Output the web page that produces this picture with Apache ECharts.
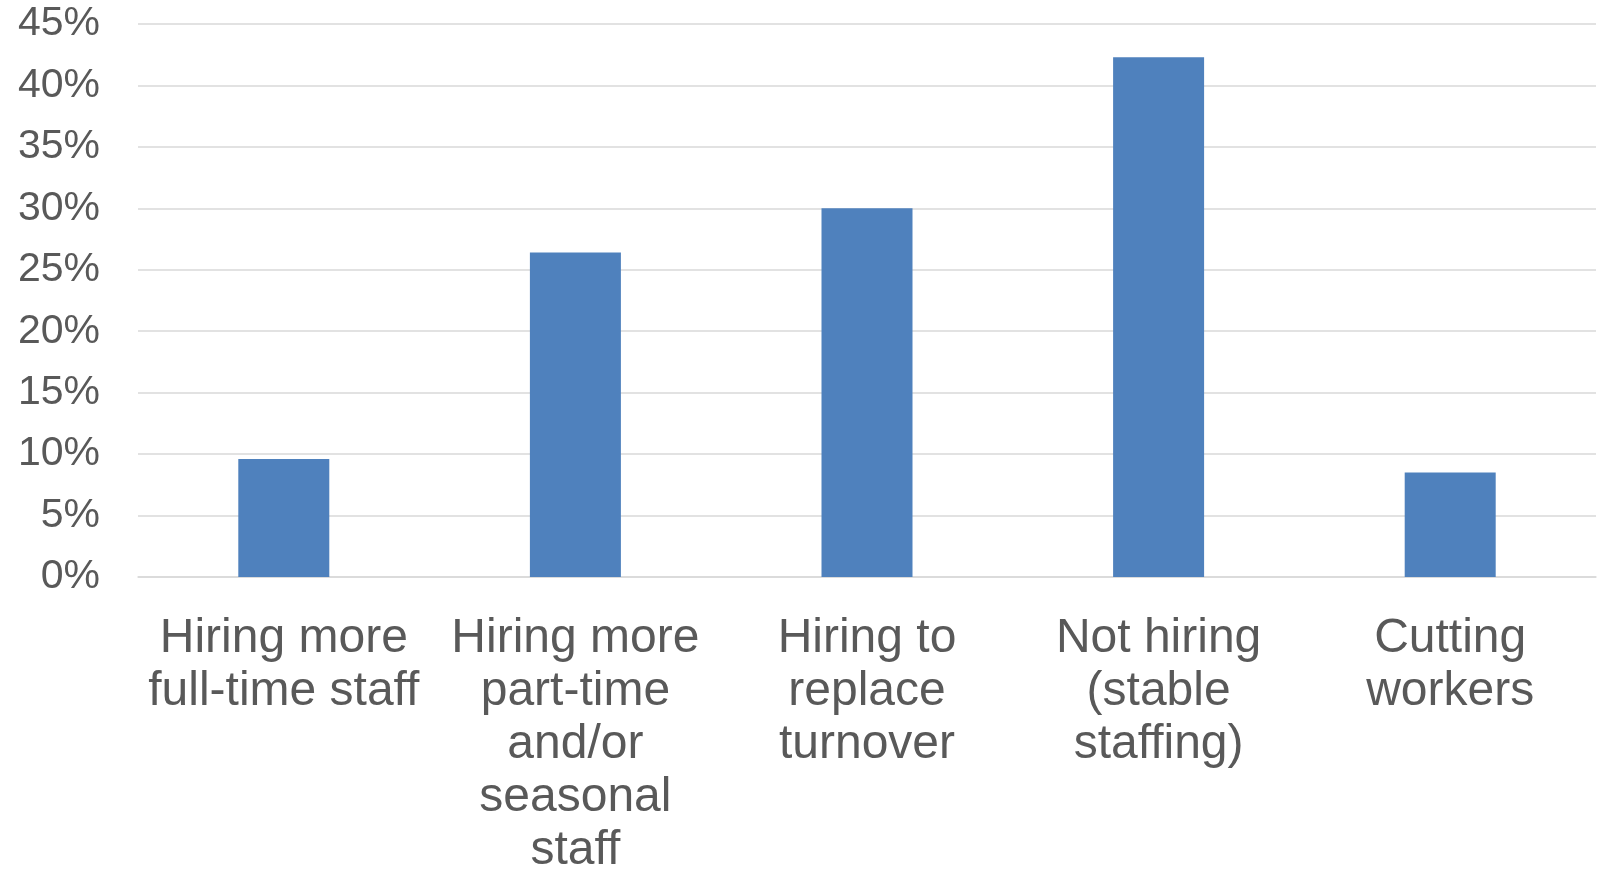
<!DOCTYPE html>
<html>
<head>
<meta charset="utf-8">
<title>Staffing plans</title>
<script src="https://cdn.jsdelivr.net/npm/echarts@6/dist/echarts.min.js"></script>
<style>
  html, body { margin: 0; padding: 0; background: #ffffff; }
  #chart { width: 1606px; height: 870px; }
</style>
</head>
<body>
<div id="chart"></div>
<script>
// Share of respondents by staffing plan (percent)
const categories = [
  'Hiring more\nfull-time staff',
  'Hiring more\npart-time\nand/or\nseasonal\nstaff',
  'Hiring to\nreplace\nturnover',
  'Not hiring\n(stable\nstaffing)',
  'Cutting\nworkers'
];
const shares = [9.6, 26.4, 30.0, 42.3, 8.5];
const yTicks = { min: 0, max: 45, step: 5 };

const textColor = '#595959';
const gridColor = '#D9D9D9';
const fontFamily = '"Liberation Sans", Arial, sans-serif';

const chart = echarts.init(document.getElementById('chart'), null, { renderer: 'canvas' });
chart.setOption({
  animation: false,
  backgroundColor: '#ffffff',
  grid: {
    left: 138, right: 10, top: 24, bottom: 293,
    containLabel: false,
    outerBoundsMode: 'none'
  },
  xAxis: {
    type: 'category',
    data: categories,
    axisLine: { show: true, lineStyle: { color: gridColor, width: 1.5 } },
    axisTick: { show: false },
    axisLabel: {
      interval: 0,
      margin: 35,
      color: textColor,
      fontFamily: fontFamily,
      fontSize: 48,
      lineHeight: 53,
      align: 'center'
    }
  },
  yAxis: {
    type: 'value',
    min: yTicks.min,
    max: yTicks.max,
    interval: yTicks.step,
    axisLine: { show: false },
    axisTick: { show: false },
    splitLine: { lineStyle: { color: gridColor, width: 1.5 } },
    axisLabel: {
      formatter: '{value}%',
      margin: 38,
      color: textColor,
      fontFamily: fontFamily,
      fontSize: 41
    }
  },
  series: [{
    type: 'bar',
    data: shares,
    barWidth: 91,
    itemStyle: { color: '#4F81BD' }
  }]
});
</script>
</body>
</html>
